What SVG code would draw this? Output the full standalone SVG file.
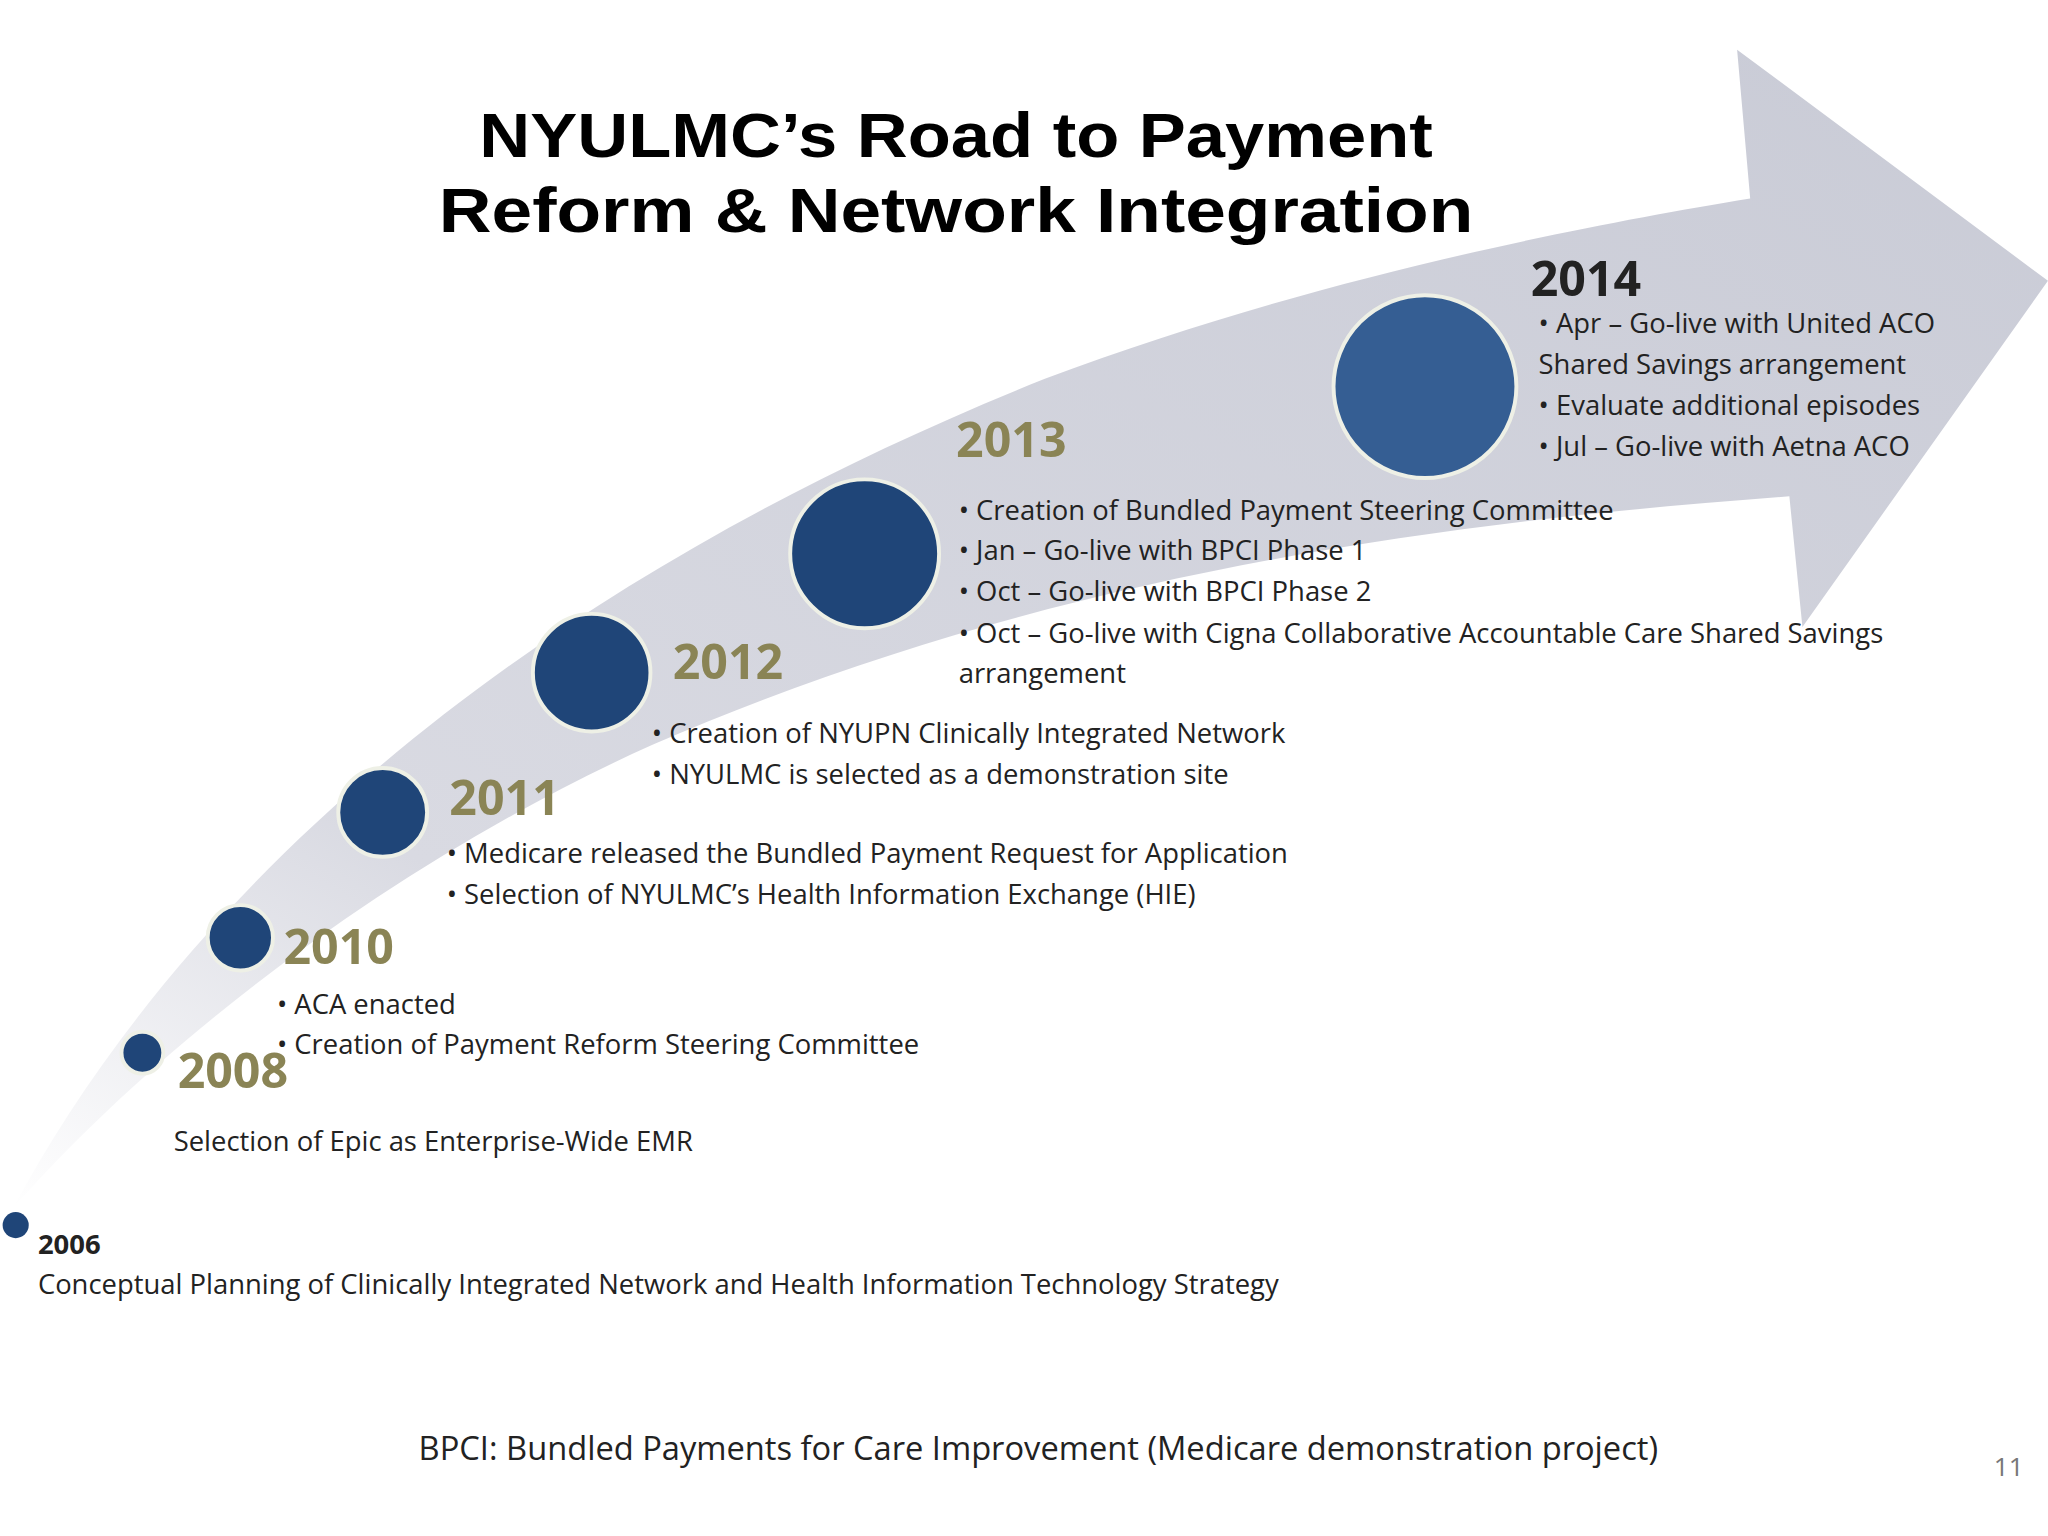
<svg xmlns="http://www.w3.org/2000/svg" width="2048" height="1536" viewBox="0 0 2048 1536">
<defs>
<linearGradient id="band" x1="0" y1="1" x2="1" y2="0">
<stop offset="0" stop-color="#ffffff"/>
<stop offset="0.25" stop-color="#d9dae2"/>
<stop offset="1" stop-color="#c9cbd6"/>
</linearGradient>
<style>
.t{font-family:"Open Sans","Noto Sans",sans-serif;font-size:21px;fill:#222}
.y{font-family:"Open Sans","Noto Sans",sans-serif;font-size:37px;font-weight:bold;fill:#8a8455}
.c{fill:#1f4578;stroke:#eef0e6;stroke-width:3}
</style>
</defs>
<rect width="2048" height="1536" fill="#fff"/>
<g transform="scale(1.3061)">
<g id="arrow">
<path d="M10,925 C120,720 350,470 800,290 C1000,215 1200,175 1340,152 L1330,38 L1568,215 L1380,480 L1370,380 C1100,400 800,440 500,570 C300,660 120,800 10,925 Z" fill="url(#band)"/>
</g>
<g id="title">
<text x="732" y="120" text-anchor="middle" font-family="Liberation Sans,Arial,sans-serif" font-weight="900" font-size="48" textLength="730" lengthAdjust="spacingAndGlyphs">NYULMC’s Road to Payment</text>
<text x="732" y="178" text-anchor="middle" font-family="Liberation Sans,Arial,sans-serif" font-weight="900" font-size="48" textLength="792" lengthAdjust="spacingAndGlyphs">Reform &amp; Network Integration</text>
</g>
<g id="n2006">
<circle cx="12" cy="938" r="10" fill="#1f4578"/>
<text class="t" x="29" y="960" font-weight="bold">2006</text>
<text class="t" x="29" y="991">Conceptual Planning of Clinically Integrated Network and Health Information Technology Strategy</text>
</g>
<g id="n2008">
<circle class="c" cx="109" cy="806" r="16"/>
<text class="y" x="136" y="833">2008</text>
<text class="t" x="133" y="881">Selection of Epic as Enterprise-Wide EMR</text>
</g>
<g id="n2010">
<circle class="c" cx="184" cy="718" r="25"/>
<text class="y" x="217" y="738">2010</text>
<text class="t" x="212" y="776">• ACA enacted</text>
<text class="t" x="212" y="807">• Creation of Payment Reform Steering Committee</text>
</g>
<g id="n2011">
<circle class="c" cx="293" cy="622" r="34"/>
<text class="y" x="344" y="624">2011</text>
<text class="t" x="342" y="661">• Medicare released the Bundled Payment Request for Application</text>
<text class="t" x="342" y="692">• Selection of NYULMC’s Health Information Exchange (HIE)</text>
</g>
<g id="n2012">
<circle class="c" cx="453" cy="515" r="45"/>
<text class="y" x="515" y="520">2012</text>
<text class="t" x="499" y="569">• Creation of NYUPN Clinically Integrated Network</text>
<text class="t" x="499" y="600">• NYULMC is selected as a demonstration site</text>
</g>
<g id="n2013">
<circle class="c" cx="662" cy="424" r="57"/>
<text class="y" x="732" y="350">2013</text>
<text class="t" x="734" y="398">• Creation of Bundled Payment Steering Committee</text>
<text class="t" x="734" y="429">• Jan – Go-live with BPCI Phase 1</text>
<text class="t" x="734" y="460">• Oct – Go-live with BPCI Phase 2</text>
<text class="t" x="734" y="492">• Oct – Go-live with Cigna Collaborative Accountable Care Shared Savings</text>
<text class="t" x="734" y="523">arrangement</text>
</g>
<g id="n2014">
<circle cx="1091" cy="296" r="70" fill="#355e93" stroke="#eef0e6" stroke-width="3"/>
<text class="y" x="1172" y="227" style="fill:#222">2014</text>
<text class="t" x="1178" y="255">• Apr – Go-live with United ACO</text>
<text class="t" x="1178" y="286">Shared Savings arrangement</text>
<text class="t" x="1178" y="318">• Evaluate additional episodes</text>
<text class="t" x="1178" y="349">• Jul – Go-live with Aetna ACO</text>
</g>
<g id="footer">
<text x="795" y="1118" text-anchor="middle" font-family="Open Sans,Noto Sans,sans-serif" font-size="25" fill="#222">BPCI: Bundled Payments for Care Improvement (Medicare demonstration project)</text>
<text x="1538" y="1130" text-anchor="middle" font-family="Open Sans,Noto Sans,sans-serif" font-size="20" fill="#777">11</text>
</g>
</g>
</svg>
